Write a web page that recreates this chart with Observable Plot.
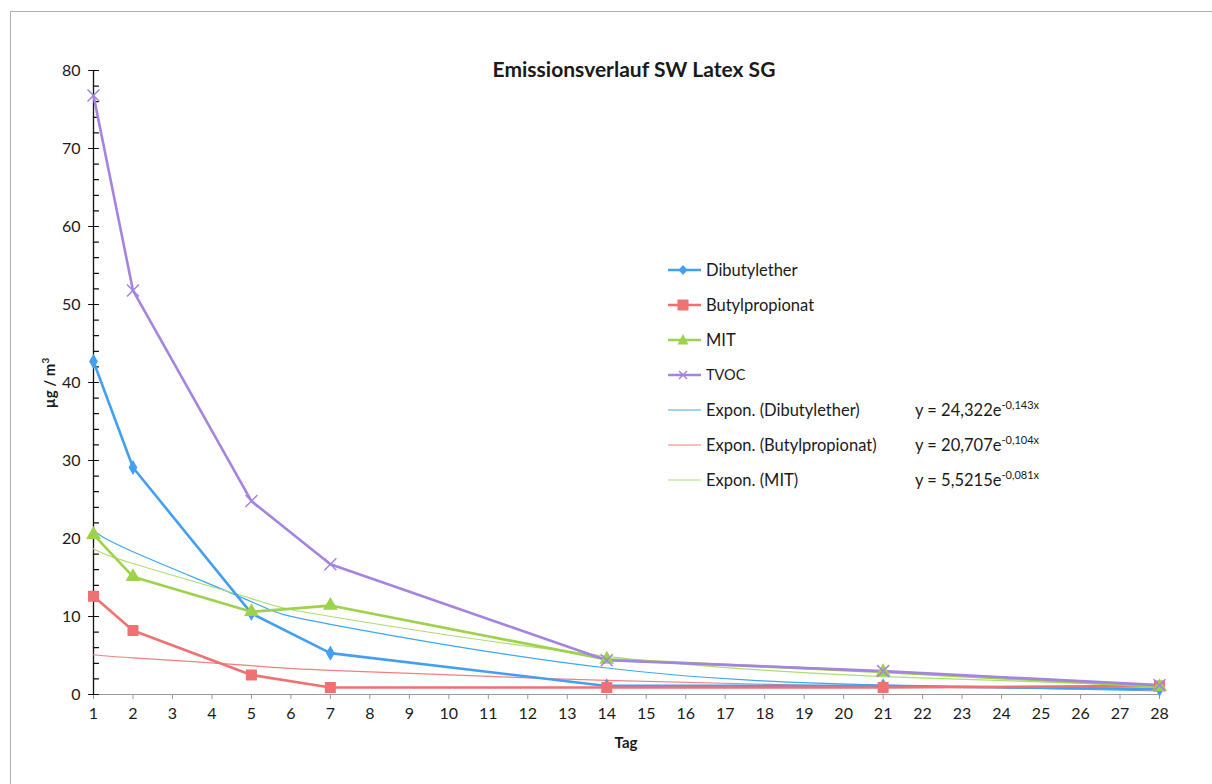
<!DOCTYPE html>
<html>
<head>
<meta charset="utf-8">
<script src="https://cdn.jsdelivr.net/npm/d3@7"></script>
<script src="https://cdn.jsdelivr.net/npm/@observablehq/plot@0.6"></script>
<style>
  html, body { margin: 0; padding: 0; background: #fff; }
  #wrap { position: relative; width: 1212px; height: 784px; overflow: hidden; font-family: Lato, "Open Sans", sans-serif; }
  #frame { position: absolute; left: 10px; top: 11px; width: 1300px; height: 900px; border-left: 1.5px solid #b0b0b0; border-top: 1.5px solid #b0b0b0; }
  #chart { position: absolute; left: 0; top: 0; }
  .title { position: absolute; left: 0; width: 1268px; top: 56px; text-align: center; font-weight: bold; font-size: 21px; color: #1a1a1a; }
  .ylab { position: absolute; left: 48px; top: 383px; transform: translate(-50%, -50%) rotate(-90deg); font-weight: bold; font-size: 15px; white-space: nowrap; color: #1a1a1a; }
  .xlab { position: absolute; left: 626px; top: 742px; transform: translate(-50%, -50%); font-weight: bold; font-size: 15px; color: #1a1a1a; }
  .leg { position: absolute; left: 666px; font-size: 16.5px; color: #1a1a1a; }
  .leg .row { position: absolute; left: 0; height: 20px; white-space: nowrap; }
  .leg svg { position: absolute; left: 0; top: 0; }
  .leg .lbl { position: absolute; left: 40px; top: 0; line-height: 20px; }
  .leg .eq { position: absolute; left: 249px; top: 0; line-height: 20px; }
  .leg .eq sup { font-size: 11px; line-height: 0; position: relative; top: -1px; vertical-align: super; }
</style>
</head>
<body>
<div id="wrap">
  <div id="frame"></div>
  <div id="chart"></div>
  <div class="title">Emissionsverlauf SW Latex SG</div>
  <div class="ylab">µg / m<sup style="font-size:10px">3</sup></div>
  <div class="xlab">Tag</div>
  <div class="leg" id="legend"></div>
</div>
<script>
// ---- data ----
const days = [1, 2, 5, 7, 14, 21, 28];
const dibutylether = [42.7, 29.1, 10.4, 5.3, 1.1, 1.1, 0.7];
const butylpropionat = [12.6, 8.2, 2.5, 0.9, 0.9, 0.9, 1.1];
const mit = [20.5, 15.1, 10.6, 11.4, 4.5, 2.9, 1.0];
const tvoc = [76.8, 51.8, 24.8, 16.7, 4.4, 3.0, 1.2];
// exponential trend lines as drawn in the reference, read at the measurement days
const trendDibutylether = [21.1, 18.3, 11.9, 9.0, 3.4, 1.2, 0.45];
const trendButylpropionat = [5.1, 4.7, 3.7, 3.1, 1.8, 1.0, 0.6];
const trendMit = [18.7, 16.8, 12.3, 10.0, 4.9, 2.3, 1.1];
const xTicks = d3.range(1, 29);
const yMajor = [0, 10, 20, 30, 40, 50, 60, 70, 80];
const yMinor = d3.range(0, 81, 2);
const seriesNames = ["Dibutylether", "Butylpropionat", "MIT", "TVOC"];
const trendNames = ["Expon. (Dibutylether)", "Expon. (Butylpropionat)", "Expon. (MIT)"];
const equations = [["24,322", "-0,143x"], ["20,707", "-0,104x"], ["5,5215", "-0,081x"]];

const colors = { Dibutylether: "#449ff0", Butylpropionat: "#ef7272", MIT: "#9cd24c", TVOC: "#a583e0" };
const trendColors = { "Expon. (Dibutylether)": "#3aa8f2", "Expon. (Butylpropionat)": "#f27f7f", "Expon. (MIT)": "#aedd72" };

const seriesValues = [dibutylether, butylpropionat, mit, tvoc];
const trendValues = [trendDibutylether, trendButylpropionat, trendMit];
const rows = seriesNames.flatMap((name, i) => days.map((d, j) => ({ name, day: d, value: seriesValues[i][j] })));
const trendRows = trendNames.flatMap((name, i) => days.map((d, j) => ({ name, day: d, value: trendValues[i][j] })));
const of = name => rows.filter(d => d.name === name);

const tickShape = { draw(ctx, l) { ctx.moveTo(0, 0); ctx.lineTo(0, -l); } };

const plot = Plot.plot({
  width: 1212,
  height: 784,
  marginLeft: 93,
  marginRight: 53,
  marginTop: 70,
  marginBottom: 90,
  style: { fontFamily: "Lato, 'Open Sans', sans-serif", background: "transparent", color: "#1a1a1a" },
  x: { domain: [1, 28], axis: null, label: null },
  y: { domain: [0, 80], axis: null, label: null },
  marks: [
    // x axis
    Plot.ruleY([0], { stroke: "#9a9a9a", strokeWidth: 1.2 }),
    Plot.axisX({ ticks: xTicks, tickSize: 5, tickPadding: 8, stroke: "#9a9a9a", fontSize: 16, tickFormat: d => String(d), fill: "#1a1a1a", label: null }),
    // y axis
    Plot.ruleX([1], { stroke: "#111", strokeWidth: 1.3 }),
    Plot.vector(yMinor, { x: () => 1, y: d => d, rotate: 90, length: 5, anchor: "start", shape: tickShape, stroke: "#111", strokeWidth: 1.2 }),
    Plot.vector(yMajor, { x: () => 1, y: d => d, rotate: -90, length: 5, anchor: "start", shape: tickShape, stroke: "#111", strokeWidth: 1.2 }),
    Plot.axisY({ ticks: yMajor, tickSize: 0, tickPadding: 13, fontSize: 16, fill: "#1a1a1a", label: null }),
    // trend lines
    Plot.line(trendRows, { x: "day", y: "value", z: "name", stroke: d => trendColors[d.name], strokeWidth: 1.2, curve: "natural" }),
    // data series
    Plot.line(rows, { x: "day", y: "value", z: "name", stroke: d => colors[d.name], strokeWidth: 2.6 }),
    Plot.dot(of("Dibutylether"), { x: "day", y: "value", symbol: "diamond", fill: colors.Dibutylether, r: 4.6, stroke: "none" }),
    Plot.dot(of("Butylpropionat"), { x: "day", y: "value", symbol: "square", fill: colors.Butylpropionat, r: 6.2, stroke: "none" }),
    Plot.dot(of("MIT"), { x: "day", y: "value", symbol: "triangle", fill: colors.MIT, r: 5.5, stroke: "none" }),
    Plot.dot(of("TVOC"), { x: "day", y: "value", symbol: "times", stroke: colors.TVOC, r: 5.5, strokeWidth: 1.5 })
  ]
});
document.getElementById("chart").appendChild(plot);

// legend
const leg = document.getElementById("legend");
const legendTops = [260, 295, 330, 365, 400, 435, 470];
const symbolSvg = {
  Dibutylether: '<path d="M17,5 L21.5,10 L17,15 L12.5,10 Z" fill="' + colors.Dibutylether + '"/>',
  Butylpropionat: '<rect x="11.5" y="4.5" width="11" height="11" fill="' + colors.Butylpropionat + '"/>',
  MIT: '<path d="M17,4 L22.5,14.5 L11.5,14.5 Z" fill="' + colors.MIT + '"/>',
  TVOC: '<path d="M13,6 L21,14 M21,6 L13,14" stroke="' + colors.TVOC + '" stroke-width="1.5"/>'
};
seriesNames.forEach((name, i) => {
  const row = document.createElement("div");
  row.className = "row";
  row.style.top = legendTops[i] + "px";
  row.innerHTML = '<svg width="36" height="20"><line x1="2" y1="10" x2="35" y2="10" stroke="' + colors[name] + '" stroke-width="2.6"/>' + symbolSvg[name] + '</svg><span class="lbl"' + (name === "TVOC" ? ' style="font-size:14.5px"' : '') + '>' + name + '</span>';
  leg.appendChild(row);
});
trendNames.forEach((name, i) => {
  const row = document.createElement("div");
  row.className = "row";
  row.style.top = legendTops[4 + i] + "px";
  row.innerHTML = '<svg width="36" height="20"><line x1="2" y1="10" x2="35" y2="10" stroke="' + trendColors[name] + '" stroke-width="1.2"/></svg><span class="lbl">' + name + '</span><span class="eq">y = ' + equations[i][0] + 'e<sup>' + equations[i][1] + '</sup></span>';
  leg.appendChild(row);
});
</script>
</body>
</html>
